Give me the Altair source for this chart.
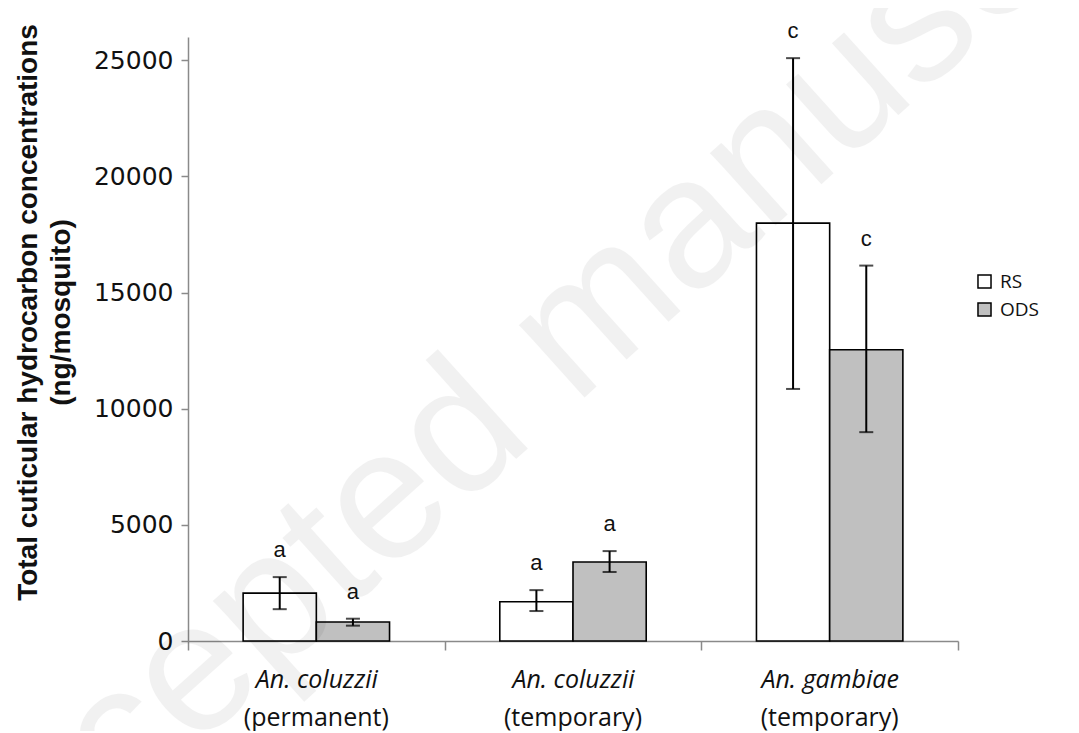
import altair as alt
import pandas as pd

# ---- data ----
categories = ["An. coluzzii (permanent)", "An. coluzzii (temporary)", "An. gambiae (temporary)"]
series = ["RS", "ODS"]
mean_rs = [2060, 1690, 17990]
mean_ods = [820, 3400, 12540]
low_rs = [1370, 1290, 10850]
high_rs = [2750, 2190, 25090]
low_ods = [660, 2970, 8990]
high_ods = [960, 3870, 16160]
letter_rs = ["a", "a", "c"]
letter_ods = ["a", "a", "c"]
y_ticks = [0, 5000, 10000, 15000, 20000, 25000]

rows = []
for i, c in enumerate(categories):
    rows.append({"cat": c, "series": "RS", "mean": mean_rs[i], "lo": low_rs[i], "hi": high_rs[i], "letter": letter_rs[i]})
    rows.append({"cat": c, "series": "ODS", "mean": mean_ods[i], "lo": low_ods[i], "hi": high_ods[i], "letter": letter_ods[i]})
df = pd.DataFrame(rows)

AXIS_GREY = "#8a8a8a"

x_scale = alt.Scale(domain=categories, paddingInner=0, paddingOuter=0)
xo_scale = alt.Scale(domain=series, paddingInner=0, paddingOuter=0.753)
y_scale = alt.Scale(domain=[0, 26000], nice=False)

x_axis_top_line = alt.Axis(
    title=None, orient="bottom", tickBand="extent", tickSize=9, tickColor=AXIS_GREY, tickWidth=1.5,
    domainColor=AXIS_GREY, domainWidth=1.5, labelAngle=0,
    labelExpr="split(datum.label, ' (')[0]", labelFont="Open Sans", labelFontSize=25,
    labelFontStyle="italic", labelColor="#111", labelPadding=17, labelBaseline="top",
)
x_axis_second_line = alt.Axis(
    title=None, orient="bottom", ticks=False, domain=False, labelAngle=0,
    labelExpr="'(' + split(datum.label, ' (')[1]", labelFont="Open Sans", labelFontSize=25,
    labelColor="#111", labelPadding=64, labelBaseline="top",
)

y_axis = alt.Axis(
    title=["Total cuticular hydrocarbon concentrations", "(ng/mosquito)"],
    titleFont="Liberation Sans", titleFontSize=28, titleFontWeight="bold", titleColor="#111",
    titleLineHeight=33, titleY=275, titlePadding=18,
    values=y_ticks, format="d", labelFont="DejaVu Sans", labelFontSize=25, labelColor="#111",
    labelPadding=8, tickSize=7, tickColor=AXIS_GREY, tickWidth=1.5,
    domainColor=AXIS_GREY, domainWidth=1.5, grid=False,
)

base = alt.Chart(df)

bars = base.mark_bar(stroke="black", strokeWidth=1.6).encode(
    x=alt.X("cat:N", scale=x_scale, axis=x_axis_top_line, sort=categories),
    xOffset=alt.XOffset("series:N", scale=xo_scale, sort=series),
    y=alt.Y("mean:Q", scale=y_scale, axis=y_axis),
    color=alt.Color(
        "series:N", sort=series,
        scale=alt.Scale(domain=series, range=["white", "#c0c0c0"]),
        legend=alt.Legend(
            title=None, orient="none", legendX=787, legendY=235, symbolType="square",
            symbolSize=170, symbolStrokeColor="black", symbolStrokeWidth=1.5,
            labelFont="Open Sans", labelFontSize=19, labelColor="#111", rowPadding=7,
            labelOffset=6,
        ),
    ),
)

err = base.mark_rule(color="black", strokeWidth=2).encode(
    x=alt.X("cat:N", scale=x_scale, sort=categories, axis=None),
    xOffset=alt.XOffset("series:N", scale=xo_scale, sort=series),
    y=alt.Y("lo:Q", scale=y_scale),
    y2="hi:Q",
)
cap_hi = base.mark_tick(color="black", size=14, thickness=2).encode(
    x=alt.X("cat:N", scale=x_scale, sort=categories, axis=None),
    xOffset=alt.XOffset("series:N", scale=xo_scale, sort=series),
    y=alt.Y("hi:Q", scale=y_scale),
)
cap_lo = base.mark_tick(color="black", size=14, thickness=2).encode(
    x=alt.X("cat:N", scale=x_scale, sort=categories, axis=None),
    xOffset=alt.XOffset("series:N", scale=xo_scale, sort=series),
    y=alt.Y("lo:Q", scale=y_scale),
)
letters = base.mark_text(baseline="middle", dy=-27, font="Liberation Sans", fontSize=22, color="#111").encode(
    x=alt.X("cat:N", scale=x_scale, sort=categories, axis=x_axis_second_line),
    xOffset=alt.XOffset("series:N", scale=xo_scale, sort=series),
    y=alt.Y("hi:Q", scale=y_scale),
    text="letter:N",
)

watermark = alt.Chart(pd.DataFrame({"t": ["Accepted manuscript"]})).mark_text(
    font="Liberation Sans", fontSize=185, angle=318, color="black", opacity=0.05,
    align="center", baseline="middle",
).encode(x=alt.value(380), y=alt.value(300), text="t:N")

chart = alt.layer(bars, err, cap_hi, cap_lo, letters, watermark).resolve_axis(x="independent").properties(
    width=770, height=604,
    autosize=alt.AutoSizeParams(type="none"),
    padding={"left": 180, "top": 29, "right": 100, "bottom": 90},
).configure_view(stroke=None)

chart.save("out.html", embed_options={"renderer": "svg", "actions": False})
